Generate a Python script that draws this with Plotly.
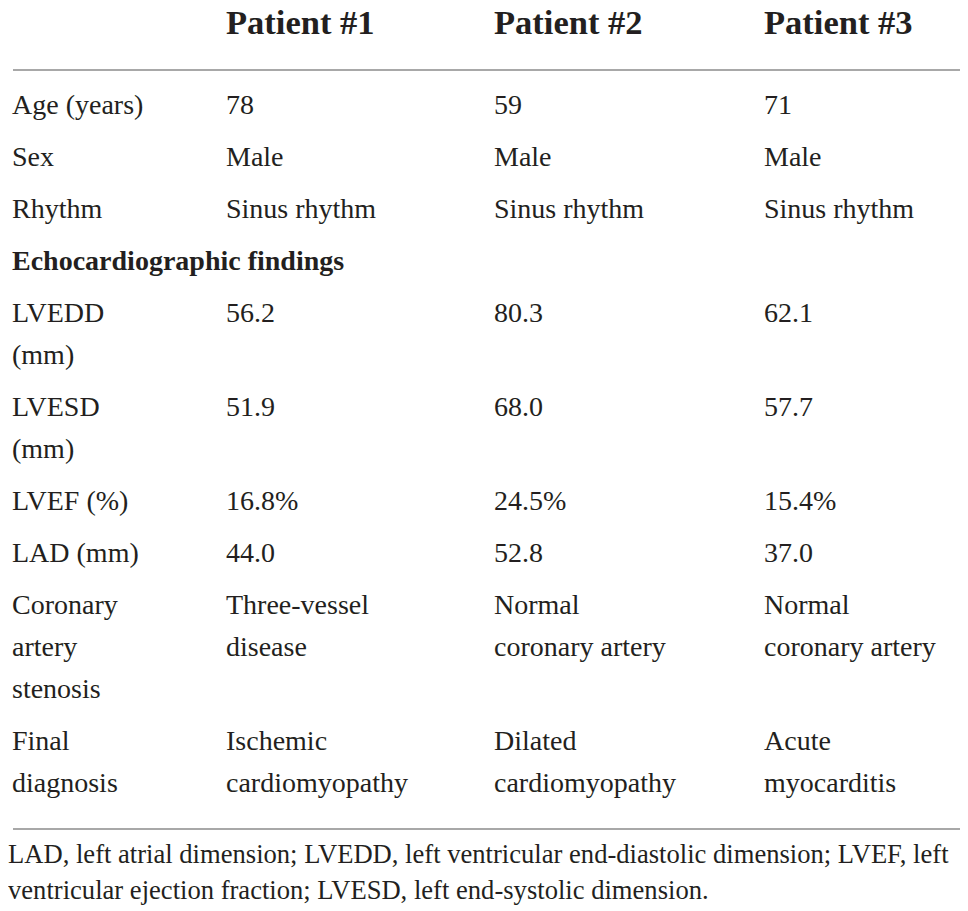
import plotly.graph_objects as go

# table content
patients = ["Patient #1", "Patient #2", "Patient #3"]
row_labels = ["Age (years)", "Sex", "Rhythm", "Echocardiographic findings",
              "LVEDD\n(mm)", "LVESD\n(mm)", "LVEF (%)", "LAD (mm)",
              "Coronary\nartery\nstenosis", "Final\ndiagnosis"]
patient_1 = ["78", "Male", "Sinus rhythm", "", "56.2", "51.9", "16.8%", "44.0",
             "Three-vessel\ndisease", "Ischemic\ncardiomyopathy"]
patient_2 = ["59", "Male", "Sinus rhythm", "", "80.3", "68.0", "24.5%", "52.8",
             "Normal\ncoronary artery", "Dilated\ncardiomyopathy"]
patient_3 = ["71", "Male", "Sinus rhythm", "", "62.1", "57.7", "15.4%", "37.0",
             "Normal\ncoronary artery", "Acute\nmyocarditis"]
section_rows = ["Echocardiographic findings"]
footnote = ["LAD, left atrial dimension; LVEDD, left ventricular end-diastolic dimension; LVEF, left",
            "ventricular ejection fraction; LVESD, left end-systolic dimension."]

W, H = 968, 911
FONT = "Liberation Serif"
INK = "#231f20"
BODY, HEAD, FOOT = 28, 34.5, 26.6
PAD = 8        # plotly puts scatter text this far right of its point
ANN_PAD = 10   # and annotation text this far right of its anchor
col_x = [12, 226, 494, 764]
first_base = 114
row_step, line_step = 52, 42

columns = [row_labels, patient_1, patient_2, patient_3]

# baseline of every row, from the number of wrapped lines in it
n_lines = [max(len(c[i].split("\n")) for c in columns) for i in range(len(row_labels))]
row_base = []
y = first_base
for n in n_lines:
    row_base.append(y)
    y += line_step * (n - 1) + row_step


def mid(base, size):
    return base - 0.55 * size


reg_x, reg_y, reg_t = [], [], []
bold_x, bold_y, bold_t = [], [], []
for ci, col in enumerate(columns):
    for ri, cell in enumerate(col):
        for li, line in enumerate(cell.split("\n")):
            if not line:
                continue
            yy = mid(row_base[ri] + li * line_step, BODY)
            if ci == 0 and line in section_rows:
                bold_x.append(col_x[ci] - PAD); bold_y.append(yy); bold_t.append(line)
            else:
                reg_x.append(col_x[ci] - PAD); reg_y.append(yy); reg_t.append(line)

fig = go.Figure()
fig.add_trace(go.Scatter(x=reg_x, y=reg_y, text=reg_t, mode="text", textposition="middle right",
                         textfont=dict(family=FONT, size=BODY, color=INK), hoverinfo="skip", cliponaxis=False))
fig.add_trace(go.Scatter(x=bold_x, y=bold_y, text=bold_t, mode="text", textposition="middle right",
                         textfont=dict(family=FONT, size=BODY, color=INK, weight="bold"), hoverinfo="skip",
                         cliponaxis=False))

# header
for px, name in zip(col_x[1:], patients):
    fig.add_annotation(x=px, y=34, xref="x", yref="y", text=name, showarrow=False,
                       xanchor="left", yanchor="bottom", xshift=-ANN_PAD, yshift=-1,
                       font=dict(family=FONT, size=HEAD, color=INK, weight="bold"))
# footnote
for i, line in enumerate(footnote):
    fig.add_annotation(x=8, y=862 + 36 * i, xref="x", yref="y", text=line, showarrow=False,
                       xanchor="left", yanchor="bottom", xshift=-ANN_PAD, yshift=-1,
                       font=dict(family=FONT, size=FOOT, color=INK))

for ly in (62, 821):
    fig.add_shape(type="line", x0=5, x1=963, y0=ly, y1=ly, line=dict(color="#a8a8a8", width=2))

fig.update_layout(width=W, height=H, margin=dict(l=0, r=0, t=0, b=0), showlegend=False,
                  paper_bgcolor="white", plot_bgcolor="white",
                  xaxis=dict(range=[0, W], visible=False, fixedrange=True),
                  yaxis=dict(range=[H, 0], visible=False, fixedrange=True))
fig.write_html("out.html")
